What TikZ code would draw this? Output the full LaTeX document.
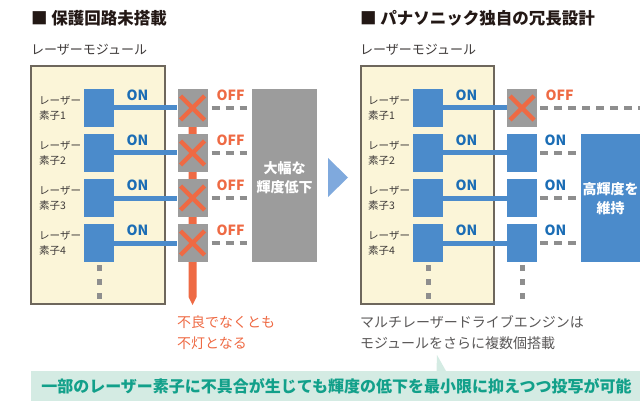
\documentclass[tikz,border=0pt]{standalone}
\usepackage{fontspec}
\setmainfont{Noto Sans CJK JP}
\usetikzlibrary{calc}
\definecolor{cream}{HTML}{FBF5D8}
\definecolor{frame}{HTML}{6E675C}
\definecolor{elblue}{HTML}{4B8BCB}
\definecolor{ontext}{HTML}{1B6DB5}
\definecolor{orng}{HTML}{EE6A44}
\definecolor{gbox}{HTML}{9C9C9C}
\definecolor{dashgray}{HTML}{8E8E8E}
\definecolor{dark}{HTML}{231815}
\definecolor{txt}{HTML}{3E3A39}
\definecolor{note}{HTML}{595757}
\definecolor{arrowblue}{HTML}{7FA9DD}
\definecolor{callbg}{HTML}{D4EBE3}
\definecolor{calltx}{HTML}{12A08A}
\tikzset{
  elem/.style={fill=elblue, minimum width=30pt, minimum height=38pt, inner sep=0pt},
  failbox/.style={fill=gbox, minimum width=30pt, minimum height=38pt, inner sep=0pt},
  lbl/.style={text=txt, font=\fontsize{10.5}{15}\selectfont, align=left, inner sep=0pt},
  onlbl/.style={text=ontext, font=\bfseries\fontsize{14}{14}\selectfont, inner sep=0pt},
  offlbl/.style={text=orng, font=\bfseries\fontsize{14}{14}\selectfont, inner sep=0pt},
  heading/.style={text=dark, font=\bfseries\fontsize{16.5}{20}\selectfont, inner sep=0pt, anchor=west},
  modlbl/.style={text=txt, font=\fontsize{13}{16}\selectfont, inner sep=0pt, anchor=west},
  bline/.style={draw=elblue, line width=5pt},
  xmark/.style={draw=orng, line width=4.5pt},
  dashln/.style={draw=dashgray, line width=4pt, dash pattern=on 8pt off 6pt},
  vdots/.style={draw=dashgray, line width=5pt, dash pattern=on 6pt off 8pt},
  bigtext/.style={text=white, font=\bfseries\fontsize{14}{19}\selectfont, align=center, inner sep=0pt},
  modbox/.style={fill=cream, draw=frame, line width=1.2pt}
}
\begin{document}
\begin{tikzpicture}[x=1pt,y=-1pt]
\useasboundingbox (0,0) rectangle (640,401);
% headings
\node[heading] (h1) at (31,18) {■ 保護回路未搭載};
\node[heading] (h2) at (360,18) {■ パナソニック独自の冗長設計};
\node[modlbl] (m1) at (31,50) {レーザーモジュール};
\node[modlbl] (m2) at (360,50) {レーザーモジュール};
% module boxes
\draw[modbox] (31,66) rectangle (165,304);
\draw[modbox] (361,66) rectangle (494,304);
% orange spine with point
\fill[orng] (188.5,108) -- (196.5,108) -- (196.5,297) -- (192.5,305) -- (188.5,297) -- cycle;
% big boxes
\node[fill=gbox, minimum width=65pt, minimum height=173pt, inner sep=0pt] (big) at (284.5,175.5) {};
\node[bigtext] (bigt) at (284.5,177.5) {大幅な\\輝度低下};
\node[fill=elblue, minimum width=59pt, minimum height=128pt, inner sep=0pt] (keep) at (610.5,198) {};
\node[bigtext] (keept) at (610.5,199) {高輝度を\\維持};
% rows
\foreach \i/\y in {1/108,2/153,3/198,4/243}{
  \node[elem] (L\i) at (99,\y) {};
  \node[elem] (R\i) at (428,\y) {};
  \node[lbl, anchor=west] (Ll\i) at (39,\y) {レーザー\\素子\i};
  \node[lbl, anchor=west] (Rl\i) at (368,\y) {レーザー\\素子\i};
  \node[failbox] (F\i) at (192.5,\y) {};
  \draw[xmark] ($(F\i.center)+(-12,-12)$) -- ($(F\i.center)+(12,12)$);
  \draw[xmark] ($(F\i.center)+(-12,12)$) -- ($(F\i.center)+(12,-12)$);
  \node[onlbl] (Lon\i) at (137.5,\y-13) {ON};
  \node[onlbl] (Ron\i) at (466.5,\y-13) {ON};
  \node[offlbl] (Loff\i) at (230.5,\y-13) {OFF};
  \draw[bline] (L\i.east) -- (F\i.west);
  \draw[dashln, shorten <=4pt, shorten >=5pt] (F\i.east) -- (F\i.east -| big.west);
}
% right second column
\node[failbox] (RB1) at (522,108) {};
\draw[xmark] ($(RB1.center)+(-12,-12)$) -- ($(RB1.center)+(12,12)$);
\draw[xmark] ($(RB1.center)+(-12,12)$) -- ($(RB1.center)+(12,-12)$);
\node[offlbl] (Roff1) at (559.5,95) {OFF};
\coordinate (edge1) at (640,108);
\draw[bline] (R1.east) -- (RB1.west);
\draw[dashln, shorten <=3pt] (RB1.east) -- (edge1);
\foreach \i/\y in {2/153,3/198,4/243}{
  \node[elem] (RB\i) at (522,\y) {};
  \node[onlbl] (Ron2\i) at (555.5,\y-13) {ON};
  \draw[bline] (R\i.east) -- (RB\i.west);
  \draw[dashln, shorten <=3pt, shorten >=4pt] (RB\i.east) -- (RB\i.east -| keep.west);
}
% vertical dots
\draw[vdots, shorten <=3pt] (L4.south) -- ++(0,38);
\draw[vdots, shorten <=3pt] (R4.south) -- ++(0,38);
\draw[vdots, shorten <=3pt] (RB4.south) -- ++(0,38);
% center arrow
\fill[arrowblue] (328,158) -- (348,177.5) -- (328,197) -- cycle;
% notes
\node[text=orng, font=\fontsize{14}{21}\selectfont, align=left, inner sep=0pt, anchor=west] (n1) at (177,332.5) {不良でなくとも\\不灯となる};
\node[text=note, font=\fontsize{14}{21}\selectfont, align=left, inner sep=0pt, anchor=west] (n2) at (360,332.5) {マルチレーザードライブエンジンは\\モジュールをさらに複数個搭載};
% callout
\fill[callbg] (31,371) -- (436.5,371) -- (437,355) -- (446,371) -- (640,371) -- (640,401) -- (31,401) -- cycle;
\node[text=calltx, font=\bfseries\fontsize{16}{16}\selectfont, inner sep=0pt] (call) at (336.5,386) {一部のレーザー素子に不具合が生じても輝度の低下を最小限に抑えつつ投写が可能};
\end{tikzpicture}
\end{document}
